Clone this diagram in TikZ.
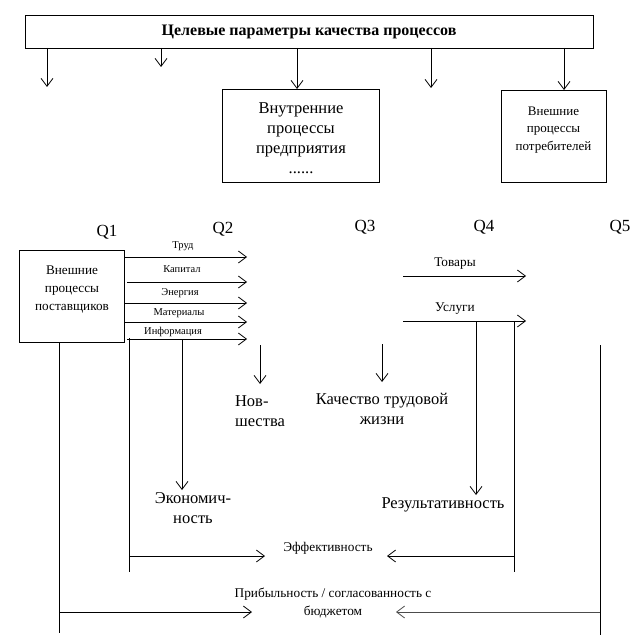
\documentclass[tikz,border=0pt]{standalone}
\usepackage{fontspec}
\setmainfont{Liberation Serif}
\usetikzlibrary{arrows.meta}
\begin{document}
\begin{tikzpicture}[x=1pt,y=-1pt,
  every node/.style={inner sep=0pt, outer sep=0pt},
  box/.style={draw, line width=0.8pt},
  ln/.style={line width=0.8pt},
  barb/.style={line width=0.8pt, -{Straight Barb[length=8pt,width=12pt]}},
  lbl/.style={font=\fontsize{10.5}{12}\selectfont},
  mid/.style={font=\fontsize{13.3}{18}\selectfont, align=center},
  big/.style={font=\fontsize{16.5}{20}\selectfont, align=center},
  qlbl/.style={font=\fontsize{17}{20}\selectfont}]
\useasboundingbox (0,0) rectangle (641,644);
% top
\node[box, minimum width=568pt, minimum height=33pt, font=\bfseries\fontsize{16}{18}\selectfont] (title) at (309,31.5) {Целевые параметры качества процессов};
\node[box, minimum width=157pt, minimum height=93pt] (inner) at (301,135.5) {};
\node[font=\fontsize{16.5}{20}\selectfont, align=center] (innertxt) at (301,138) {Внутренние\\процессы\\предприятия\\......};
\node[box, minimum width=105pt, minimum height=92pt] (outer) at (553.5,136) {};
\node[font=\fontsize{13}{17.5}\selectfont, align=center] (outertxt) at (553.5,130) {Внешние\\процессы\\потребителей};
\coordinate (t1) at (47,87);
\coordinate (t2) at (161,67);
\coordinate (t3) at (297,0);
\coordinate (t4) at (431,88);
\coordinate (t5) at (564,0);
\draw[barb] (title.south -| t1) -- (t1);
\draw[barb] (title.south -| t2) -- (t2);
\draw[barb] (title.south -| t3) -- (inner.north -| t3);
\draw[barb] (title.south -| t4) -- (t4);
\draw[barb] (title.south -| t5) -- (outer.north -| t5);
% Q labels
\node[qlbl] (q1) at (107,232) {Q1};
\node[qlbl] (q2) at (223,229) {Q2};
\node[qlbl] (q3) at (365,227) {Q3};
\node[qlbl] (q4) at (484,227) {Q4};
\node[qlbl] (q5) at (620,227) {Q5};
% supplier box
\node[box, minimum width=105pt, minimum height=92pt] (supp) at (71.5,296) {};
\node[font=\fontsize{13.2}{18}\selectfont, align=center] (supptxt) at (72,290) {Внешние\\процессы\\поставщиков};
% input arrows
\coordinate (e1) at (247,257);
\coordinate (e2) at (247,282);
\coordinate (e3) at (247,303);
\coordinate (e4) at (247,322);
\coordinate (e5) at (247,339);
\coordinate (s2) at (127,282);
\coordinate (s5) at (127,339);
\draw[barb] (supp.east |- e1) -- (e1);
\draw[barb] (s2) -- (e2);
\draw[barb] (supp.east |- e3) -- (e3);
\draw[barb] (supp.east |- e4) -- (e4);
\draw[barb] (s5) -- (e5);
\node[lbl] (trud) at (183,246) {Труд};
\node[lbl] (kap) at (182,269) {Капитал};
\node[lbl] (energ) at (180,293) {Энергия};
\node[lbl] (mat) at (179,313) {Материалы};
\node[lbl] (inf) at (173,332) {Информация};
% goods / services
\coordinate (g1) at (403,276);
\coordinate (g2) at (526,276);
\coordinate (u1) at (403,321);
\coordinate (u2) at (526,321);
\draw[barb] (g1) -- (g2);
\draw[barb] (u1) -- (u2);
\node[mid] (tov) at (455,264) {Товары};
\node[mid] (usl) at (455,309) {Услуги};
% result texts
\node[big, align=left] (nov) at (260,411) {Нов-\\шества};
\node[big] (kach) at (382,409) {Качество трудовой\\жизни};
\node[big] (econ) at (193,508) {Экономич-\\ность};
\node[big] (res) at (443,505) {Результативность};
\node[mid] (eff) at (328,548) {Эффективность};
\node[mid] (prib) at (333,603) {Прибыльность / согласованность с\\бюджетом};
% vertical lines and arrows
\coordinate (v1b) at (59,633);
\coordinate (v1a) at (59,612);
\coordinate (p1) at (252,612);
\draw[ln] (supp.south -| v1b) -- (v1b);
\draw[barb] (v1a) -- (p1);
\coordinate (v2t) at (129,338);
\coordinate (v2b) at (129,572);
\coordinate (v2a) at (129,556);
\coordinate (f1) at (265,556);
\draw[ln] (v2t) -- (v2b);
\draw[barb] (v2a) -- (f1);
\coordinate (v3t) at (182,339);
\coordinate (v3b) at (182,490);
\draw[barb] (v3t) -- (v3b);
\coordinate (v4t) at (260,345);
\coordinate (v4b) at (260,384);
\draw[barb] (v4t) -- (v4b);
\coordinate (v5t) at (382,344);
\coordinate (v5b) at (382,382);
\draw[barb] (v5t) -- (v5b);
\coordinate (v6t) at (476,321);
\coordinate (v6b) at (476,495);
\draw[barb] (v6t) -- (v6b);
\coordinate (v7t) at (514,321);
\coordinate (v7b) at (514,572);
\coordinate (v7a) at (514,556);
\coordinate (f2) at (387,556);
\draw[ln] (v7t) -- (v7b);
\draw[barb] (v7a) -- (f2);
\coordinate (v8t) at (600,345);
\coordinate (v8b) at (600,635);
\coordinate (v8a) at (600,612);
\coordinate (p2) at (396,612);
\draw[ln] (v8t) -- (v8b);
\draw[barb, draw=black!70] (v8a) -- (p2);
\end{tikzpicture}
\end{document}
